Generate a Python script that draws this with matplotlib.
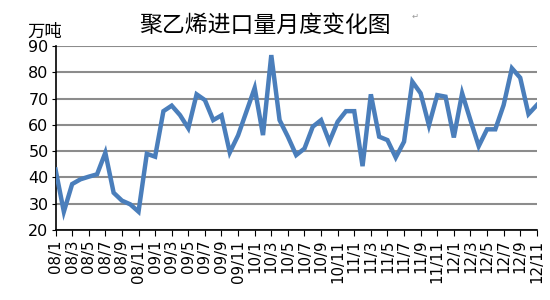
import matplotlib
matplotlib.use("Agg")
import matplotlib.pyplot as plt

plt.rcParams['font.family'] = ['DejaVu Sans', 'Noto Sans CJK SC']

# monthly PE imports, 08/1 .. 12/11 (10k tonnes)
months = [f"{y:02d}/{m}" for y in range(8, 13) for m in range(1, 13)][:59]
imports = [43, 27, 37.5, 39.3, 40.3, 41.2, 49.4, 34.2, 31.2, 29.8, 27, 49,
           47.9, 65.2, 67.3, 63.7, 58.7, 71.6, 69.4, 61.8, 63.6, 49.5, 56, 65,
           74, 56.1, 86.5, 61.8, 55.5, 48.5, 51, 59.3, 61.8, 53.6, 61.2, 65.2,
           65.2, 44.3, 71.6, 55.5, 54.2, 47.6, 53.6, 76.4, 72, 59.8, 71.3, 70.7,
           55.2, 72, 61.8, 51.9, 58.3, 58.3, 67.5, 81.5, 77.9, 64.1, 67.5]

fig = plt.figure(figsize=(5.5, 3.0), dpi=100)
ax = fig.add_axes([0.101, 0.233, 0.875, 0.614])

x = list(range(len(imports)))
ax.plot(x, imports, color='#4a7ebb', lw=3.2, solid_joinstyle='miter', zorder=3)

ax.set_xlim(0, len(imports) - 1)
ax.set_ylim(20, 90)
ax.set_yticks(range(20, 91, 10))
ax.set_xticks(x[::2])
ax.set_xticklabels(months[::2], rotation=90, fontsize=10.8)
ax.tick_params(axis='y', labelsize=11.5, length=3, pad=2)
ax.tick_params(axis='x', length=4, pad=3)
ax.yaxis.grid(True, color='#8c8c8c', lw=1.5)
ax.set_axisbelow(True)
for s in ['top', 'right']:
    ax.spines[s].set_visible(False)
for s in ['left', 'bottom']:
    ax.spines[s].set_linewidth(1.2)

fig.text(0.482, 0.917, '聚乙烯进口量月度变化图', ha='center', va='center',
         fontsize=16.5, family=['Noto Sans CJK SC'])
fig.text(0.05, 0.895, '万吨', ha='left', va='center', fontsize=12.5,
         family=['Noto Sans CJK SC'])
fig.text(0.755, 0.945, '↵', ha='center', va='center', fontsize=6, color='#999999')

fig.savefig('out.png', dpi=100)
